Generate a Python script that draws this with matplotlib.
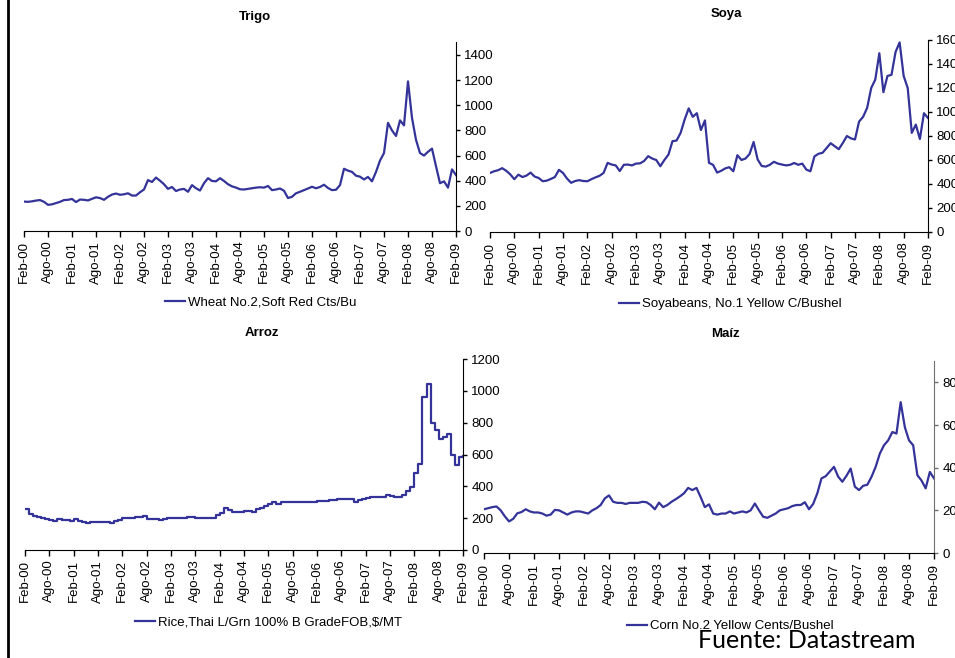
import numpy as np
import matplotlib
matplotlib.use('Agg')
import matplotlib.pyplot as plt
from matplotlib import font_manager
from matplotlib.lines import Line2D

# monthly values, index 0 = Feb-00 ... 108 = Feb-09
tick_labels = ['Feb-00', 'Ago-00', 'Feb-01', 'Ago-01', 'Feb-02', 'Ago-02', 'Feb-03', 'Ago-03',
               'Feb-04', 'Ago-04', 'Feb-05', 'Ago-05', 'Feb-06', 'Ago-06', 'Feb-07', 'Ago-07',
               'Feb-08', 'Ago-08', 'Feb-09']

wheat = [234, 232, 236, 242, 246, 232, 208, 212, 222, 232, 246,
         248, 255, 230, 250, 248, 243, 256, 268, 262, 248, 272, 290,
         298, 288, 292, 300, 282, 282, 308, 330, 405, 390, 425, 400,
         372, 335, 350, 318, 330, 335, 312, 365, 340, 322, 380, 420,
         398, 395, 420, 398, 372, 355, 345, 332, 330, 335, 340, 345,
         348, 345, 358, 325, 330, 338, 320, 262, 272, 300, 312, 325,
         338, 352, 340, 350, 368, 342, 325, 328, 365, 495, 480, 470,
         440, 432, 410, 430, 395, 470, 560, 620, 860, 800, 756, 880,
         840, 1190, 900, 725, 620, 600, 630, 655, 515, 380, 395, 345,
         490, 445]

soy = [492, 506, 515, 532, 510, 480, 440, 478, 458, 470, 495,
       462, 450, 423, 428, 442, 458, 518, 492, 445, 410, 425, 432,
       425, 423, 440, 455, 468, 492, 576, 562, 555, 508, 560, 562,
       555, 570, 572, 592, 632, 612, 600, 548, 600, 645, 757, 762,
       826, 938, 1030, 960, 990, 850, 930, 576, 560, 495, 510, 530,
       540, 506, 640, 600, 612, 650, 750, 604, 550, 545, 560, 585,
       570, 562, 555, 560, 575, 560, 570, 520, 506, 630, 652, 660,
       700, 740, 715, 690, 742, 800, 780, 771, 920, 960, 1035, 1200,
       1270, 1490, 1165, 1300, 1310, 1500, 1580, 1300, 1200, 826, 895, 775,
       990, 950]

rice = [260, 226, 215, 205, 200, 192, 188, 185, 196, 190, 186,
        185, 193, 180, 174, 172, 175, 178, 176, 178, 176, 172, 180,
        190, 201, 203, 198, 205, 210, 213, 197, 192, 195, 188, 195,
        204, 203, 200, 200, 200, 208, 208, 200, 200, 200, 200, 198,
        220, 230, 262, 250, 240, 238, 240, 245, 245, 240, 255, 262,
        275, 290, 302, 290, 300, 300, 300, 303, 300, 300, 300, 300,
        300, 305, 308, 310, 312, 315, 318, 322, 322, 318, 303, 315,
        320, 325, 330, 330, 330, 335, 343, 340, 335, 335, 345, 372,
        395, 482, 540, 960, 1045, 800, 755, 700, 710, 727, 600, 535,
        585, 590]

corn = [205, 210, 215, 218, 200, 172, 148, 160, 186, 192, 205,
        195, 190, 190, 185, 175, 180, 202, 200, 190, 180, 190, 195,
        195, 190, 185, 200, 210, 225, 256, 270, 240, 235, 235, 230,
        235, 235, 235, 240, 238, 225, 205, 236, 215, 225, 240, 252,
        265, 280, 305, 295, 305, 262, 215, 228, 185, 180, 185, 185,
        195, 185, 190, 195, 190, 200, 232, 200, 170, 165, 175, 185,
        200, 205, 210, 220, 225, 225, 238, 205, 230, 280, 350, 360,
        382, 404, 358, 334, 362, 396, 311, 295, 315, 320, 357, 404,
        466, 505, 528, 567, 560, 707, 590, 528, 505, 365, 340, 303,
        380, 350]

W, H = 955, 658
navy = '#333399'

names = {f.name for f in font_manager.fontManager.ttflist}
narrow = 'Liberation Sans Narrow' if 'Liberation Sans Narrow' in names else 'Liberation Sans'
plt.rcParams['font.family'] = 'Liberation Sans'

fig = plt.figure(figsize=(W / 100, H / 100), dpi=100)


def px_axes(l, t, r, b):
    ax = fig.add_axes([l / W, 1 - b / H, (r - l) / W, (b - t) / H])
    ax.set_facecolor('none')
    return ax


def style(ax, ymax, ystep, spine_col='black'):
    ax.set_xlim(0, 108)
    ax.set_ylim(0, ymax)
    for s in ['top', 'left']:
        ax.spines[s].set_visible(False)
    ax.spines['right'].set_color(spine_col)
    ax.spines['bottom'].set_color('black')
    ax.yaxis.tick_right()
    ax.set_yticks(np.arange(0, ymax + 1, ystep))
    ax.set_xticks(np.arange(0, 109, 6))
    ax.set_xticklabels(tick_labels, rotation=90, fontsize=9.5, family='Liberation Sans')
    ax.tick_params(axis='x', length=4, width=1, pad=3, direction='out')
    ax.tick_params(axis='y', length=3, width=1, pad=3, direction='out', colors=spine_col,
                   labelcolor='black')
    for lab in ax.get_yticklabels():
        lab.set_fontfamily(narrow)
        lab.set_fontsize(9.5)


x = np.arange(len(wheat))

panels = [
    ('Trigo', wheat, 'Wheat No.2,Soft Red Cts/Bu', (24, 42.4, 456, 231), 1500, 200,
     (255, 17), (165, 302), 'default', 'black'),
    ('Soya', soy, 'Soyabeans, No.1 Yellow C/Bushel', (490, 40, 928, 232), 1600, 200,
     (726, 14), (619, 304), 'default', 'black'),
    ('Arroz', rice, 'Rice,Thai L/Grn 100% B GradeFOB,$/MT', (25, 359, 463, 550), 1200, 200,
     (262, 333), (135, 622), 'steps-post', 'black'),
    ('Maíz', corn, 'Corn No.2 Yellow Cents/Bushel', (484, 361, 934, 553), 900, 200,
     (725, 334), (627, 626), 'default', '#6e6e6e'),
]

for title, vals, lab, box, ymax, ystep, tpos, lpos, ds, scol in panels:
    ax = px_axes(*box)
    ax.plot(x, vals, color=navy, lw=1.6, drawstyle=ds, label=lab)
    style(ax, ymax, ystep, scol)
    fig.text(tpos[0] / W, 1 - tpos[1] / H, title, ha='center', va='center',
             fontsize=9.5, fontweight='bold')
    ax.legend(loc='center left', bbox_to_anchor=(lpos[0] / W, 1 - lpos[1] / H),
              bbox_transform=fig.transFigure, frameon=False, borderpad=0,
              borderaxespad=0, handlelength=1.5, handletextpad=0.25,
              prop={'family': narrow, 'size': 9.5})

# left border bar
fig.add_artist(Line2D([7.5 / W, 7.5 / W], [0, 1], transform=fig.transFigure,
                      color='black', lw=2))

fig.text(698 / W, 1 - 648 / H, 'Fuente: Datastream', ha='left', va='baseline',
         fontsize=18, family='Lato')

fig.savefig('out.png', dpi=100)
